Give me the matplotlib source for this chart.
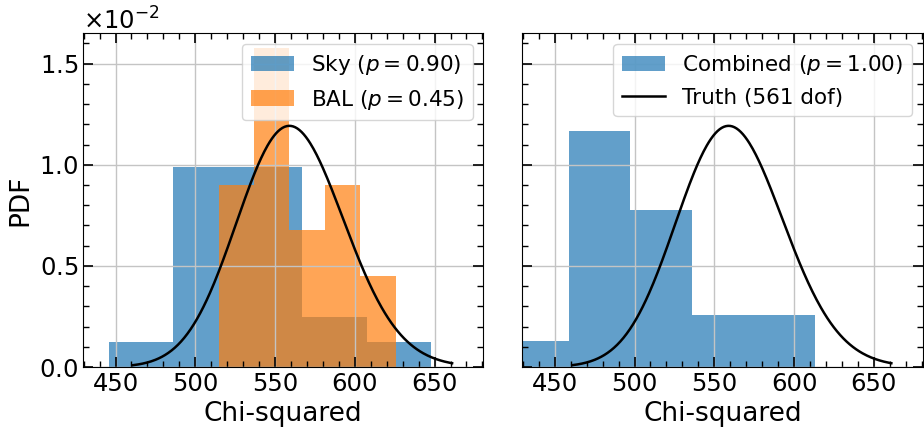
import math
import numpy as np
import matplotlib
matplotlib.use("Agg")
import matplotlib.pyplot as plt
from matplotlib.ticker import MultipleLocator

# histogram bin edges and counts (20 samples each)
sky_edges = [445.8, 486.2, 526.6, 567.1, 607.5, 647.9]
sky_counts = [1, 8, 8, 2, 1]
bal_edges = [514.6, 536.8, 559.0, 581.2, 603.4, 625.6]
bal_counts = [4, 7, 3, 4, 2]
comb_edges = [420.2, 458.8, 497.4, 536.0, 574.6, 613.2]
comb_counts = [1, 9, 6, 2, 2]

sky_label = r"Sky ($p = 0.90$)"
bal_label = r"BAL ($p = 0.45$)"
comb_label = r"Combined ($p = 1.00$)"
dof = 561
truth_label = "Truth (%d dof)" % dof

# theoretical chi-squared pdf
x = np.linspace(dof - 100, dof + 100, 300)
k = dof / 2.0
truth = np.exp((k - 1) * np.log(x) - x / 2 - k * math.log(2) - math.lgamma(k))

plt.rcParams["font.size"] = 17.5
plt.rcParams["grid.color"] = "#c4c4c4"
plt.rcParams["grid.linewidth"] = 1.0

fig, (ax1, ax2) = plt.subplots(1, 2, figsize=(9.24, 4.28), dpi=100, sharey=True)
fig.subplots_adjust(left=0.0898, right=0.9985, bottom=0.1425, top=0.922, wspace=0.097)

ax1.hist(sky_edges[:-1], bins=sky_edges, weights=sky_counts, density=True,
         color="tab:blue", alpha=0.7, label=sky_label)
ax1.hist(bal_edges[:-1], bins=bal_edges, weights=bal_counts, density=True,
         color="tab:orange", alpha=0.7, label=bal_label)
ax1.plot(x, truth, color="black", lw=1.8)
ax1.legend(loc="upper right", fontsize=15.5)
ax1.set_ylabel("PDF", fontsize=19)

ax2.hist(comb_edges[:-1], bins=comb_edges, weights=comb_counts, density=True,
         color="tab:blue", alpha=0.7, label=comb_label)
ax2.plot(x, truth, color="black", lw=1.8, label=truth_label)
ax2.legend(loc="upper right", fontsize=15.5)

for ax in (ax1, ax2):
    ax.set_xlim(429.6, 680.6)
    ax.set_ylim(0, 0.0165)
    ax.set_xlabel("Chi-squared", fontsize=19)
    ax.xaxis.set_major_locator(MultipleLocator(50))
    ax.xaxis.set_minor_locator(MultipleLocator(10))
    ax.yaxis.set_major_locator(MultipleLocator(0.005))
    ax.yaxis.set_minor_locator(MultipleLocator(0.001))
    ax.tick_params(which="both", direction="in", top=True, right=True)
    ax.tick_params(which="major", length=7, width=1.2)
    ax.tick_params(which="minor", length=4, width=1)
    ax.grid(True)

ax1.ticklabel_format(axis="y", style="sci", scilimits=(0, 0), useMathText=True)
ax2.tick_params(labelleft=False)

fig.savefig("out.png")
